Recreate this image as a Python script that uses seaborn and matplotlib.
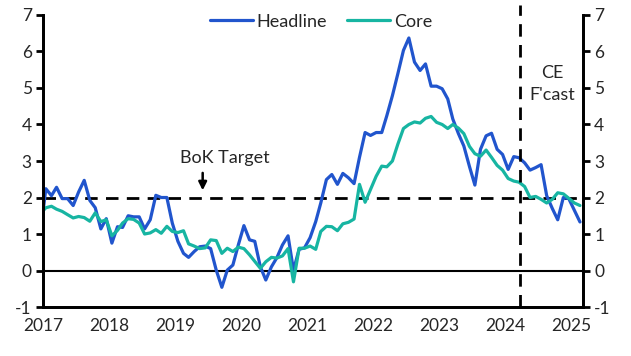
import numpy as np
import pandas as pd
import matplotlib
matplotlib.use("Agg")
import matplotlib.pyplot as plt
import seaborn as sns

# monthly y/y inflation, Dec 2016 .. Feb 2025 (%)
headline = [1.0,
    2.24, 2.05, 2.28, 1.97, 1.97, 1.78, 2.15, 2.47, 1.92, 1.72, 1.14, 1.42,
    0.75, 1.2, 1.18, 1.5, 1.47, 1.47, 1.14, 1.39, 2.06, 2.0, 2.0, 1.3,
    0.8, 0.47, 0.36, 0.52, 0.65, 0.67, 0.6, 0.01, -0.46, 0.01, 0.15, 0.7,
    1.23, 0.84, 0.8, 0.1, -0.26, 0.1, 0.35, 0.7, 0.95, 0.01, 0.58, 0.62,
    0.9, 1.34, 1.85, 2.49, 2.63, 2.36, 2.66, 2.54, 2.38, 3.1, 3.78, 3.7,
    3.78, 3.78, 4.24, 4.79, 5.39, 6.03, 6.37, 5.71, 5.48, 5.66, 5.05, 5.05,
    4.98, 4.7, 4.15, 3.75, 3.41, 2.85, 2.34, 3.32, 3.69, 3.76, 3.32, 3.18,
    2.77, 3.12, 3.09, 2.95, 2.75, 2.82, 2.9, 2.05, 1.7, 1.39, 2.0, 1.97,
    1.65, 1.33]
core = [1.55,
    1.72, 1.76, 1.68, 1.62, 1.53, 1.44, 1.48, 1.45, 1.35, 1.58, 1.34, 1.39,
    0.95, 1.1, 1.3, 1.42, 1.4, 1.3, 1.0, 1.03, 1.12, 1.02, 1.21, 1.07,
    1.04, 1.09, 0.73, 0.67, 0.6, 0.62, 0.84, 0.82, 0.47, 0.61, 0.52, 0.64,
    0.6, 0.43, 0.25, 0.06, 0.24, 0.36, 0.34, 0.4, 0.6, -0.31, 0.61, 0.61,
    0.67, 0.58, 1.07, 1.21, 1.2, 1.09, 1.28, 1.32, 1.41, 2.36, 1.87, 2.22,
    2.58, 2.86, 2.84, 3.0, 3.46, 3.89, 4.0, 4.07, 4.04, 4.17, 4.22, 4.06,
    4.0, 3.89, 4.0, 3.9, 3.75, 3.4, 3.2, 3.13, 3.3, 3.1, 2.88, 2.75,
    2.52, 2.45, 2.42, 2.3, 2.0, 2.03, 1.95, 1.85, 1.95, 2.13, 2.1, 1.98,
    1.85, 1.78]
dates = pd.date_range("2016-12-01", periods=len(headline), freq="MS") + pd.Timedelta(days=16)
years = list(range(2017, 2026))
yticks = list(range(-1, 8))
target = 2
fcast_start = pd.Timestamp("2024-03-25")

df = pd.DataFrame({"date": dates, "Headline": headline, "Core": core})
long = df.melt(id_vars="date", var_name="series", value_name="value")

sns.set_style("white")
plt.rcParams["font.family"] = ["Lato", "DejaVu Sans"]
fs = 12.5   # tick labels
fs_txt = 13  # legend and notes

fig = plt.figure(figsize=(6.31, 3.56), dpi=100)
ax = fig.add_axes([0.0681, 0.1376, 0.8559, 0.8203])

sns.lineplot(data=long, x="date", y="value", hue="series",
             palette={"Headline": "#2155CD", "Core": "#17B5A2"},
             linewidth=2.3, ax=ax)

ax.axhline(0, color="black", lw=1.5, zorder=1)
ax.axhline(target, color="black", lw=2, ls=(0, (4.5, 3)), zorder=1)
ax.axvline(fcast_start, ymin=0, ymax=1.035, color="black", lw=2,
           ls=(0, (4.5, 3)), clip_on=False)

ax.set_xlim(pd.Timestamp("2017-01-01"), pd.Timestamp("2025-03-06"))
ax.set_ylim(-1, 7)
ax.set_xticks([pd.Timestamp(f"{y}-01-01") for y in years])
ax.set_xticklabels([str(y) for y in years], fontsize=fs)
ax.set_yticks(yticks)
ax.set_yticklabels([str(v) for v in yticks], fontsize=fs)
ax.set_xlabel("")
ax.set_ylabel("")

ax2 = ax.twinx()
ax2.set_ylim(-1, 7)
ax2.set_yticks(yticks)
ax2.set_yticklabels([str(v) for v in yticks], fontsize=fs)

for a in (ax, ax2):
    for s in a.spines.values():
        s.set_linewidth(2)
        s.set_color("black")
    a.spines["top"].set_visible(False)
    a.tick_params(direction="out", length=5, width=2, color="black", pad=3)

ax.annotate("", xy=(pd.Timestamp("2019-06-03"), 2.12),
            xytext=(pd.Timestamp("2019-06-03"), 2.75),
            arrowprops=dict(arrowstyle="-|>", color="black", lw=1.8,
                            mutation_scale=12))
ax.text(pd.Timestamp("2019-10-05"), 3.08, "BoK Target", ha="center",
        va="center", fontsize=fs_txt)
ax.text(pd.Timestamp("2024-09-15"), 5.1, "CE\nF'cast", ha="center",
        va="center", fontsize=fs_txt, linespacing=1.45)

ax.legend(loc="upper center", bbox_to_anchor=(0.515, 1.06), ncol=2,
          frameon=False, fontsize=fs_txt, handlelength=2.4, handletextpad=0.2,
          columnspacing=1.1)

fig.savefig("out.png", dpi=100)
